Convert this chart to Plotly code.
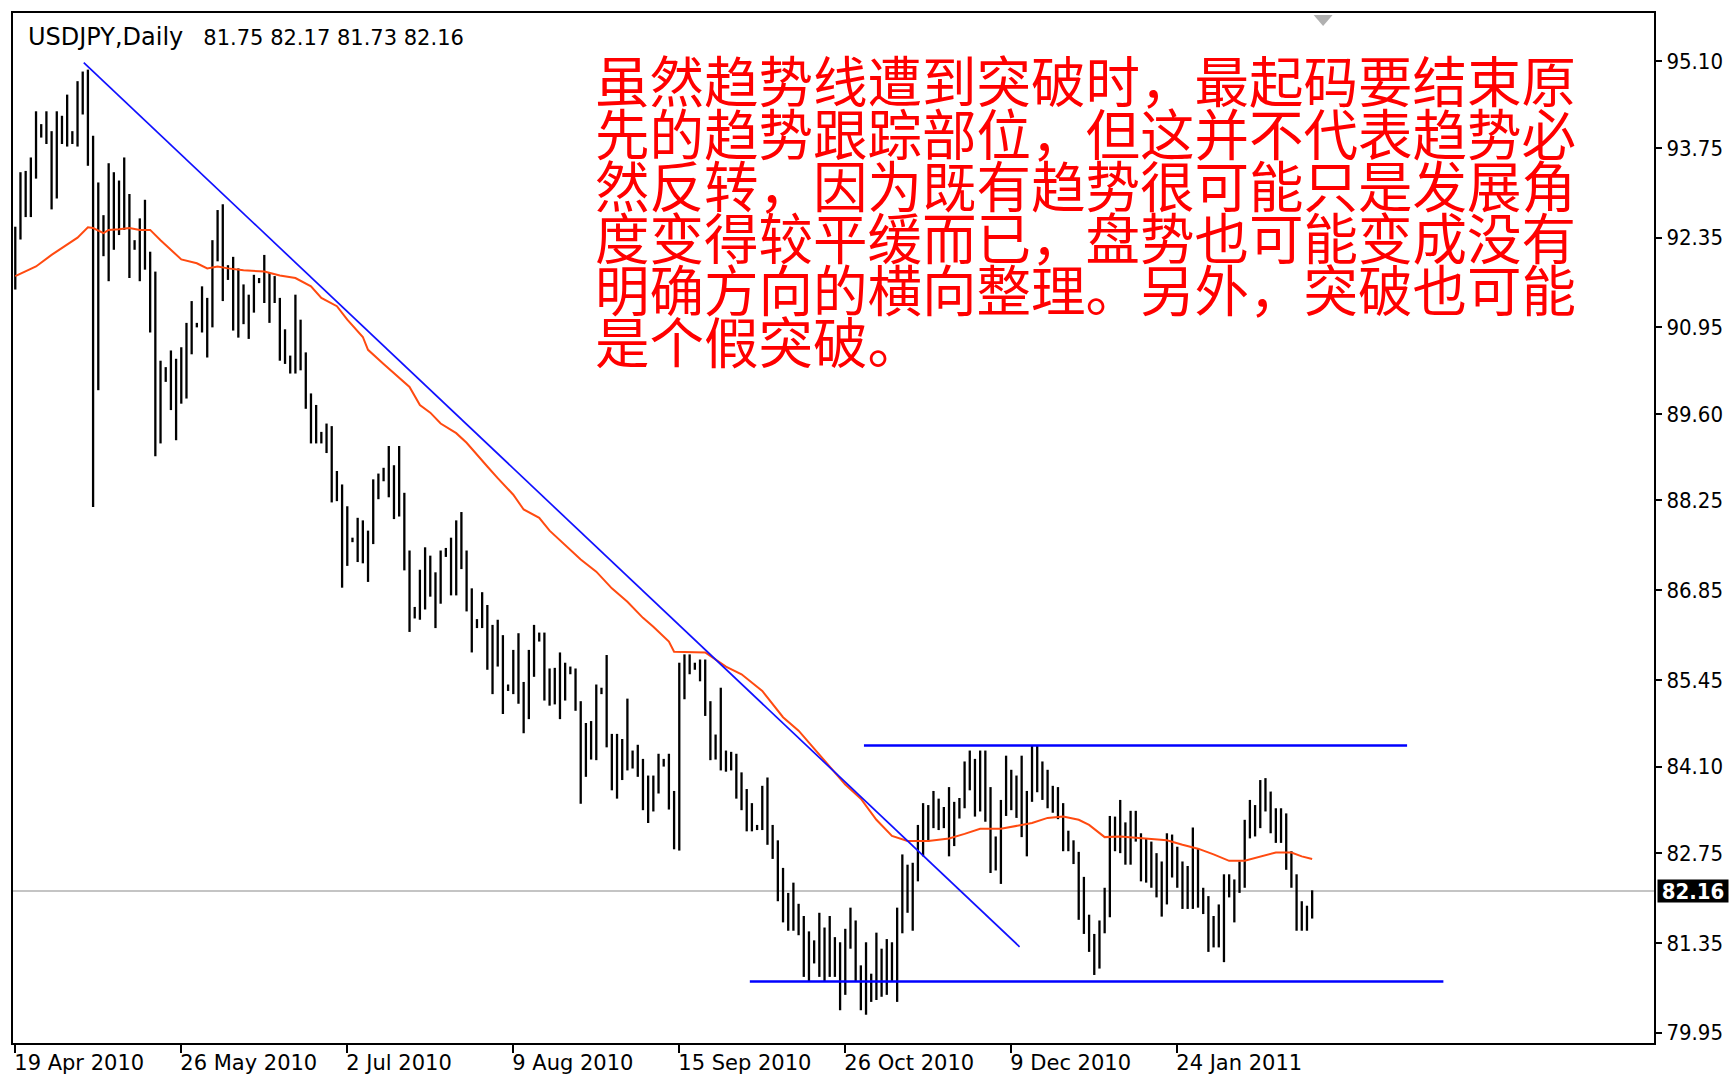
import plotly.graph_objects as go

# ---------------- data ----------------
symbol = "USDJPY,Daily"

highs = [
    92.52, 93.37, 93.39, 93.60, 94.32, 94.12, 94.32, 94.01, 94.32, 94.25,
    94.58, 94.01, 94.79, 94.94, 94.97, 93.94, 93.21, 92.70, 93.51, 93.37,
    93.24, 93.60, 93.03, 92.31, 92.65, 92.94, 92.13, 91.82, 90.43, 90.33,
    90.59, 90.46, 90.64, 91.02, 91.36, 91.02, 91.59, 91.41, 92.31, 92.78,
    92.87, 91.92, 92.05, 91.87, 91.62, 91.46, 91.77, 91.72, 92.08, 91.80,
    91.75, 91.41, 90.92, 90.51, 91.46, 91.07, 90.56, 89.92, 89.74, 89.32,
    89.45, 89.41, 88.71, 88.50, 88.16, 87.67, 87.98, 87.94, 87.78, 88.58,
    88.67, 88.76, 89.10, 88.80, 89.10, 88.37, 87.47, 86.59, 87.17, 87.52,
    87.39, 87.13, 87.47, 87.51, 87.67, 87.94, 88.07, 87.47, 86.88, 86.40,
    86.82, 86.62, 86.31, 86.39, 86.15, 85.38, 85.92, 86.18, 85.42, 85.92,
    86.31, 86.19, 86.19, 85.63, 85.64, 85.88, 85.72, 85.66, 85.63, 85.12,
    84.78, 84.81, 85.38, 85.33, 85.84, 84.61, 84.61, 84.53, 85.16, 84.35,
    84.44, 84.22, 83.96, 83.96, 84.30, 84.22, 84.30, 83.72, 85.72, 85.85,
    85.85, 85.72, 85.77, 85.77, 85.12, 84.60, 85.33, 84.35, 84.33, 84.30,
    84.01, 83.75, 83.53, 83.19, 83.80, 83.93, 83.19, 82.95, 82.52, 82.13,
    82.29, 81.96, 81.77, 81.53, 81.39, 81.82, 81.59, 81.77, 81.44, 81.36,
    81.57, 81.90, 81.70, 81.00, 81.36, 80.87, 81.51, 81.26, 81.41, 81.36,
    81.90, 82.73, 82.57, 82.60, 83.19, 83.53, 83.50, 83.72, 83.60, 83.47,
    83.78, 83.55, 83.61, 84.18, 84.35, 84.22, 84.35, 84.35, 83.78, 83.01,
    83.58, 84.27, 84.05, 83.96, 84.27, 83.72, 84.43, 84.43, 84.18, 84.05,
    83.80, 83.78, 83.53, 83.10, 82.95, 82.77, 82.38, 81.79, 81.49, 81.70,
    82.21, 83.33, 83.32, 83.58, 83.23, 83.41, 83.41, 83.06, 82.98, 82.93,
    82.75, 82.62, 83.06, 83.04, 82.85, 82.62, 82.55, 83.15, 82.83, 82.21,
    82.08, 81.77, 81.95, 82.42, 82.42, 82.34, 82.62, 83.27, 83.58, 83.50,
    83.89, 83.92, 83.71, 83.45, 83.45, 83.37, 82.78, 82.42, 82.00, 81.93,
    82.17,
]

lows = [
    91.54, 92.32, 92.67, 92.67, 93.27, 93.91, 93.81, 92.79, 92.96, 93.81,
    93.77, 93.81, 93.77, 94.27, 93.47, 88.15, 89.97, 92.06, 91.67, 92.16,
    92.39, 92.47, 91.72, 92.16, 91.67, 91.85, 90.87, 88.94, 89.14, 90.10,
    89.66, 89.19, 89.76, 89.84, 90.53, 90.95, 90.87, 90.48, 90.95, 91.98,
    91.36, 91.69, 90.90, 90.79, 91.00, 90.77, 91.18, 91.64, 91.33, 91.02,
    91.33, 90.43, 90.38, 90.23, 90.23, 90.28, 89.68, 89.14, 89.14, 89.14,
    88.99, 88.22, 88.24, 86.89, 87.23, 87.60, 87.29, 87.27, 86.98, 87.57,
    88.27, 88.55, 88.30, 87.96, 88.00, 87.16, 86.20, 86.41, 86.39, 86.55,
    86.75, 86.26, 86.64, 87.37, 86.77, 86.77, 87.18, 86.52, 85.88, 86.26,
    86.26, 85.61, 85.23, 85.66, 84.92, 85.28, 85.23, 85.08, 84.62, 84.84,
    85.50, 86.05, 85.13, 85.05, 85.07, 84.84, 85.13, 85.54, 84.97, 83.52,
    83.94, 84.21, 84.20, 85.23, 84.40, 83.73, 83.60, 83.89, 84.04, 84.07,
    83.94, 83.42, 83.22, 83.40, 83.68, 84.10, 83.43, 82.81, 82.79, 85.15,
    85.54, 85.61, 85.43, 84.89, 84.20, 84.21, 84.04, 84.02, 84.04, 83.60,
    83.42, 83.09, 83.09, 83.11, 83.11, 82.88, 82.66, 82.00, 81.67, 81.54,
    81.54, 81.47, 80.82, 80.74, 81.03, 80.82, 80.74, 80.82, 80.82, 80.30,
    80.54, 81.26, 80.74, 80.30, 80.23, 80.43, 80.46, 80.51, 80.54, 80.74,
    80.43, 81.50, 81.82, 81.54, 82.31, 82.70, 82.93, 83.14, 83.11, 83.14,
    82.70, 82.86, 83.29, 83.45, 83.73, 83.32, 83.40, 83.24, 82.44, 82.48,
    82.27, 83.33, 83.42, 83.30, 83.00, 82.70, 83.55, 83.70, 83.58, 83.45,
    83.38, 83.28, 82.78, 82.78, 82.58, 81.71, 81.49, 81.21, 80.85, 80.95,
    81.50, 81.75, 82.78, 82.75, 82.57, 82.57, 82.93, 82.31, 82.29, 82.21,
    82.06, 81.76, 81.95, 82.37, 82.21, 81.88, 81.88, 81.88, 81.90, 81.80,
    81.21, 81.28, 81.28, 81.05, 82.06, 81.67, 82.13, 82.21, 82.98, 83.01,
    83.14, 83.40, 83.06, 82.91, 82.91, 82.49, 82.21, 81.54, 81.54, 81.54,
    81.73,
]

opens = [
    92.00, 92.45, 93.05, 93.30, 93.50, 94.05, 94.00, 93.95, 93.20, 94.10,
    94.00, 93.95, 93.90, 94.60, 94.70, 93.60, 91.20, 92.10, 92.60, 92.60,
    92.80, 92.70, 92.50, 92.20, 92.20, 92.10, 92.00, 91.10, 89.90, 90.15,
    90.20, 89.90, 90.00, 90.30, 90.80, 90.98, 90.98, 91.20, 91.00, 92.00,
    92.30, 91.80, 91.75, 91.30, 91.30, 91.20, 91.35, 91.68, 91.68, 91.60,
    91.50, 91.40, 90.60, 90.45, 90.40, 90.70, 90.45, 89.75, 89.50, 89.20,
    89.25, 89.30, 88.40, 88.45, 87.60, 87.62, 87.62, 87.60, 87.50, 87.70,
    88.40, 88.60, 88.65, 88.50, 88.60, 88.20, 87.30, 86.50, 86.50, 86.90,
    86.90, 86.80, 86.90, 87.40, 87.45, 87.30, 87.80, 87.30, 86.70, 86.30,
    86.35, 86.40, 85.80, 85.90, 85.80, 85.30, 85.33, 85.70, 85.20, 85.00,
    85.80, 86.10, 86.10, 85.40, 85.30, 85.50, 85.40, 85.60, 85.60, 85.00,
    84.20, 84.50, 84.40, 85.28, 85.30, 84.50, 84.00, 84.30, 84.20, 84.20,
    84.20, 84.10, 83.60, 83.60, 83.80, 84.15, 84.15, 83.60, 82.90, 85.60,
    85.70, 85.70, 85.65, 85.60, 85.00, 84.40, 84.50, 84.20, 84.20, 84.20,
    83.80, 83.60, 83.30, 83.15, 83.15, 83.50, 83.10, 82.80, 82.30, 81.80,
    81.80, 81.70, 81.60, 81.10, 81.20, 81.30, 81.20, 81.40, 81.00, 81.00,
    81.20, 81.50, 81.50, 80.90, 80.60, 80.70, 80.70, 81.00, 80.90, 81.00,
    80.90, 81.70, 82.00, 82.20, 82.50, 83.00, 83.30, 83.30, 83.40, 83.30,
    83.30, 83.20, 83.40, 83.50, 84.00, 83.80, 83.90, 83.70, 83.40, 82.70,
    82.60, 83.45, 83.80, 83.60, 83.50, 83.20, 83.60, 84.10, 84.00, 83.80,
    83.70, 83.50, 83.40, 82.90, 82.85, 82.70, 82.00, 81.60, 81.30, 81.30,
    81.60, 82.00, 83.10, 83.10, 82.90, 83.00, 83.20, 83.00, 82.60, 82.50,
    82.40, 82.20, 82.10, 82.80, 82.60, 82.40, 82.20, 82.10, 82.40, 82.10,
    82.00, 81.50, 81.60, 81.40, 82.20, 82.20, 82.20, 82.50, 83.10, 83.30,
    83.40, 83.70, 83.50, 83.30, 83.10, 83.00, 82.60, 82.30, 81.70, 81.80,
    81.75,
]

closes = [
    92.45, 93.05, 93.30, 93.50, 94.05, 94.00, 93.95, 93.20, 94.10, 94.00,
    93.95, 93.90, 94.60, 94.70, 93.60, 91.20, 91.50, 92.60, 92.60, 92.80,
    92.70, 92.50, 92.20, 92.20, 92.10, 92.00, 91.10, 89.90, 90.15, 90.20,
    89.90, 90.00, 90.30, 90.80, 90.98, 90.98, 91.20, 91.00, 92.00, 92.30,
    91.80, 91.75, 91.30, 91.30, 91.20, 91.35, 91.68, 91.68, 91.60, 91.50,
    91.40, 90.60, 90.45, 90.40, 90.70, 90.45, 89.75, 89.50, 89.20, 89.25,
    89.30, 88.40, 88.45, 87.60, 87.62, 87.62, 87.60, 87.50, 87.70, 88.40,
    88.60, 88.65, 88.50, 88.60, 88.20, 87.30, 86.50, 86.50, 86.90, 86.90,
    86.80, 86.90, 87.40, 87.45, 87.30, 87.80, 87.30, 86.70, 86.30, 86.35,
    86.40, 85.80, 85.90, 85.80, 85.30, 85.33, 85.70, 85.20, 85.00, 85.80,
    86.10, 86.10, 85.40, 85.30, 85.50, 85.40, 85.60, 85.60, 85.00, 84.20,
    84.50, 84.40, 85.28, 85.30, 84.50, 84.00, 84.30, 84.20, 84.20, 84.20,
    84.10, 83.60, 83.60, 83.80, 84.15, 84.15, 83.60, 82.90, 85.60, 85.70,
    85.70, 85.65, 85.60, 85.00, 84.40, 84.50, 84.20, 84.20, 84.20, 83.80,
    83.60, 83.30, 83.15, 83.15, 83.50, 83.10, 82.80, 82.30, 81.80, 81.80,
    81.70, 81.60, 81.10, 81.20, 81.30, 81.20, 81.40, 81.00, 81.00, 81.20,
    81.50, 81.50, 80.90, 80.60, 80.70, 80.70, 81.00, 80.90, 81.00, 80.90,
    81.70, 82.00, 82.20, 82.50, 83.00, 83.30, 83.30, 83.40, 83.30, 83.30,
    83.20, 83.40, 83.50, 84.00, 83.80, 83.90, 83.70, 83.40, 82.70, 82.60,
    83.45, 83.80, 83.60, 83.50, 83.20, 83.60, 84.10, 84.00, 83.80, 83.70,
    83.50, 83.40, 82.90, 82.85, 82.70, 82.00, 81.60, 81.30, 81.30, 81.60,
    82.00, 83.10, 83.10, 82.90, 83.00, 83.20, 83.00, 82.60, 82.50, 82.40,
    82.20, 82.10, 82.80, 82.60, 82.40, 82.20, 82.10, 82.40, 82.10, 82.00,
    81.50, 81.60, 81.40, 82.20, 82.20, 82.20, 82.50, 83.10, 83.30, 83.40,
    83.70, 83.50, 83.30, 83.10, 83.00, 82.60, 82.30, 81.70, 81.80, 81.75,
    82.16,
]

bar_index = list(range(len(closes)))

# moving average (orange line), read at these bar positions
ma_index = [0, 4, 7, 10, 12, 14, 15, 17, 18, 20, 22, 24, 26, 28, 30, 32, 35, 37, 39, 41,
            44, 48, 51, 54, 57, 59, 62, 64, 67, 68, 71, 74, 76, 78, 80, 82, 85, 87, 89, 91,
            93, 96, 98, 101, 103, 106, 109, 112, 115, 118, 121, 123, 126, 127, 133, 137, 140,
            144, 148, 151, 154, 158, 160, 163, 166, 169, 172, 176, 180, 183, 186, 190, 193,
            196, 199, 202, 205, 207, 210, 213, 216, 219, 222, 225, 228, 231, 234, 237, 240,
            243, 246, 248, 250]
ma_values = [91.75, 91.90, 92.08, 92.24, 92.35, 92.51, 92.50, 92.42, 92.47, 92.48,
             92.50, 92.47, 92.47, 92.31, 92.16, 92.01, 91.95, 91.87, 91.90, 91.87,
             91.84, 91.82, 91.76, 91.72, 91.59, 91.41, 91.28, 91.07, 90.80, 90.60,
             90.38, 90.17, 90.02, 89.74, 89.62, 89.45, 89.30, 89.15, 88.96, 88.78,
             88.60, 88.34, 88.11, 87.98, 87.78, 87.55, 87.33, 87.14, 86.88, 86.67,
             86.42, 86.28, 86.05, 85.89, 85.88, 85.66, 85.54, 85.28, 84.87, 84.66,
             84.38, 84.02, 83.82, 83.60, 83.27, 83.02, 82.94, 82.94, 82.98, 83.05,
             83.13, 83.13, 83.18, 83.22, 83.30, 83.32, 83.27, 83.19, 83.00, 83.01,
             82.99, 82.97, 82.95, 82.88, 82.82, 82.73, 82.63, 82.63, 82.69, 82.76,
             82.76, 82.70, 82.66]

# drawn lines (bar position, price)
trend_x = [13.2, 193.6]
trend_y = [95.08, 81.29]
resist_x = [163.6, 268.3]
resist_y = [84.43, 84.43]
support_x = [141.6, 275.3]
support_y = [80.75, 80.75]

date_ticks = [0, 32, 64, 96, 128, 160, 192, 224]
date_labels = ["19 Apr 2010", "26 May 2010", "2 Jul 2010", "9 Aug 2010",
               "15 Sep 2010", "26 Oct 2010", "9 Dec 2010", "24 Jan 2011"]
price_ticks = [95.10, 93.75, 92.35, 90.95, 89.60, 88.25, 86.85, 85.45, 84.10, 82.75, 81.35, 79.95]
price_labels = ["95.10", "93.75", "92.35", "90.95", "89.60", "88.25", "86.85",
                "85.45", "84.10", "82.75", "81.35", "79.95"]

note_lines = [
    "虽然趋势线遭到突破时，最起码要结束原",
    "先的趋势跟踪部位，但这并不代表趋势必",
    "然反转，因为既有趋势很可能只是发展角",
    "度变得较平缓而已，盘势也可能变成没有",
    "明确方向的横向整理。另外，突破也可能",
    "是个假突破。",
]

# ---------------- layout geometry ----------------
W, H = 1734, 1086
ML, MR, MT, MB = 11, 79, 11, 36
PW = W - ML - MR
PH = H - MT - MB


def pxx(x):
    return (x - ML) / PW


def pxy(y):
    return (H - MB - y) / PH


PRICE_FONT = "DejaVu Sans Condensed, Liberation Sans Narrow, DejaVu Sans, sans-serif"
DATE_FONT = "DejaVu Sans, sans-serif"

fig = go.Figure()

fig.add_trace(go.Ohlc(
    x=bar_index, open=opens, high=highs, low=lows, close=closes,
    increasing=dict(line=dict(color="black", width=2.3)),
    decreasing=dict(line=dict(color="black", width=2.3)),
    tickwidth=0, hoverinfo="skip", showlegend=False,
))

fig.add_trace(go.Scatter(
    x=ma_index, y=ma_values, mode="lines",
    line=dict(color="#FF4A10", width=2), hoverinfo="skip", showlegend=False,
))

fig.add_trace(go.Scatter(
    x=trend_x, y=trend_y, mode="lines",
    line=dict(color="#1010FF", width=1.7), hoverinfo="skip", showlegend=False,
))
fig.add_trace(go.Scatter(
    x=resist_x, y=resist_y, mode="lines",
    line=dict(color="#0000FF", width=2.5), hoverinfo="skip", showlegend=False,
))
fig.add_trace(go.Scatter(
    x=support_x, y=support_y, mode="lines",
    line=dict(color="#0000FF", width=2.5), hoverinfo="skip", showlegend=False,
))

# current price line
fig.add_shape(type="line", xref="paper", yref="y", x0=0, x1=1,
              y0=closes[-1], y1=closes[-1],
              line=dict(color="#C4C4C4", width=2), layer="below")

# chart shift marker
fig.add_shape(type="path", xref="paper", yref="paper",
              path=f"M {pxx(1314)},{pxy(13)} L {pxx(1333)},{pxy(13)} L {pxx(1323.5)},{pxy(24)} Z",
              fillcolor="#B0B0B0", line=dict(width=0))

annotations = []
annotations.append(dict(
    xref="paper", yref="paper", x=pxx(24), y=pxy(35), xanchor="left", yanchor="middle",
    text=(f"<span style='font-size:24px'>{symbol}</span>\u00a0\u00a0\u00a0"
          f"{opens[-1]:.2f} {highs[-1]:.2f} {lows[-1]:.2f} {closes[-1]:.2f}"),
    showarrow=False, font=dict(family="DejaVu Sans, sans-serif", size=21, color="black"),
))

for i, line in enumerate(note_lines):
    annotations.append(dict(
        xref="paper", yref="paper", x=pxx(592), y=pxy(77.5 + 52.6 * i),
        xanchor="left", yanchor="middle",
        text=line, showarrow=False,
        font=dict(family="Noto Sans CJK SC", size=54.5, color="#FF0000"),
    ))

annotations.append(dict(
    xref="paper", yref="y", x=1, y=closes[-1], xanchor="left", yanchor="middle",
    xshift=3, text=f"{closes[-1]:.2f}", showarrow=False,
    bgcolor="black", width=70, height=22, borderpad=0,
    font=dict(family=PRICE_FONT, size=22, color="white", weight="bold"),
))

fig.update_layout(
    width=W, height=H,
    margin=dict(l=ML, r=MR, t=MT, b=MB, pad=0),
    paper_bgcolor="white", plot_bgcolor="white",
    showlegend=False,
    annotations=annotations,
    xaxis=dict(
        range=[-0.44, 315.9], showgrid=False, zeroline=False,
        showline=True, linecolor="black", linewidth=2, mirror=True,
        ticks="outside", ticklen=8, tickwidth=2, tickcolor="black",
        tickvals=date_ticks, ticktext=date_labels,
        ticklabelposition="outside right", ticklabelshift=-3,
        tickfont=dict(family=DATE_FONT, size=21, color="black"),
        rangeslider=dict(visible=False), fixedrange=True,
    ),
    yaxis=dict(
        side="right", range=[79.789, 95.853], showgrid=False, zeroline=False,
        showline=True, linecolor="black", linewidth=2, mirror=True,
        ticks="outside", ticklen=6, tickwidth=2, tickcolor="black",
        tickvals=price_ticks, ticktext=price_labels,
        tickfont=dict(family=PRICE_FONT, size=22, color="black"),
        fixedrange=True,
    ),
)

fig.write_html(
    "out.html",
    config={"displayModeBar": False},
    post_script="document.body.style.margin='0px';document.body.style.overflow='hidden';",
)
